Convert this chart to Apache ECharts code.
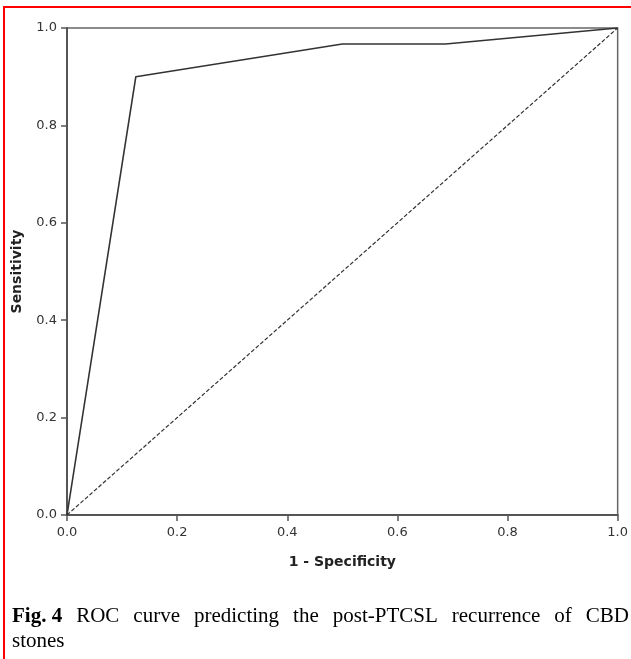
<!DOCTYPE html>
<html>
<head>
<meta charset="utf-8">
<script src="https://cdn.jsdelivr.net/npm/echarts@6/dist/echarts.min.js"></script>
<style>
  html, body { margin: 0; padding: 0; background: #fff; }
  #chart { width: 631px; height: 659px; }
</style>
</head>
<body>
<div id="chart"></div>
<script>
// ROC points (1 - specificity, sensitivity)
const fpr = [0, 0.125, 0.5, 0.6875, 1]
const tpr = [0, 0.9, 0.967, 0.967, 1]
// chance (reference) line
const refX = [0, 1]
const refY = [0, 1]
const tickValues = [0, 0.2, 0.4, 0.6, 0.8, 1.0]

const captionLine1 = ['Fig. 4', 'ROC', 'curve', 'predicting', 'the', 'post-PTCSL', 'recurrence', 'of', 'CBD']
const captionLine2 = 'stones'

const SERIF = "'Liberation Serif', 'Times New Roman', serif"
const CAP_SIZE = 21

// spread the first caption line across the full width (the original is justified)
function justifyWords(words, left, right, baseline) {
  const ctx = document.createElement('canvas').getContext('2d')
  const fonts = words.map((w, i) => (i === 0 ? 'bold ' : '') + CAP_SIZE + 'px ' + SERIF)
  const widths = words.map((w, i) => {
    ctx.font = fonts[i]
    return ctx.measureText(w).width
  })
  const total = widths.reduce((a, b) => a + b, 0)
  const gap = (right - left - total) / (words.length - 1)
  let x = left
  return words.map((w, i) => {
    const el = {
      type: 'text',
      style: {
        x: x, y: baseline, text: w, font: fonts[i], fill: '#000',
        align: 'left', verticalAlign: 'bottom'
      }
    }
    x += widths[i] + gap
    return el
  })
}

const chart = echarts.init(document.getElementById('chart'), null, { renderer: 'canvas' })

const axisLabelStyle = {
  color: '#333',
  fontFamily: 'DejaVu Sans',
  fontSize: 13,
  formatter: (v) => v.toFixed(1)
}
const axisNameStyle = { fontFamily: 'DejaVu Sans', fontWeight: 'bold', fontSize: 14, color: '#222' }

chart.setOption({
  animation: false,
  backgroundColor: '#fff',
  grid: {
    left: 67, right: 11, top: 28, bottom: 144,
    show: true,
    borderColor: '#666',
    borderWidth: 1.5
  },
  xAxis: {
    type: 'value',
    min: 0, max: 1, interval: 0.2,
    name: '1 - Specificity',
    nameLocation: 'middle',
    nameGap: 40,
    nameTextStyle: axisNameStyle,
    axisLine: { show: true, lineStyle: { color: '#555', width: 2 } },
    axisTick: { show: true, length: 6, lineStyle: { color: '#555', width: 1.5 } },
    axisLabel: Object.assign({ margin: 11, customValues: tickValues }, axisLabelStyle),
    splitLine: { show: false }
  },
  yAxis: {
    type: 'value',
    min: 0, max: 1, interval: 0.2,
    name: 'Sensitivity',
    nameLocation: 'middle',
    nameRotate: 90,
    nameGap: 43,
    nameTextStyle: axisNameStyle,
    axisLine: { show: true, lineStyle: { color: '#555', width: 2 } },
    axisTick: { show: true, length: 6, lineStyle: { color: '#555', width: 1.5 } },
    axisLabel: Object.assign({ margin: 10 }, axisLabelStyle),
    splitLine: { show: false }
  },
  series: [
    {
      name: 'ROC',
      type: 'line',
      symbol: 'none',
      lineStyle: { color: '#333', width: 1.6 },
      data: fpr.map((x, i) => [x, tpr[i]]),
      z: 3
    },
    {
      name: 'Reference',
      type: 'line',
      symbol: 'none',
      lineStyle: { color: '#333', width: 1.2, type: [4, 2] },
      data: refX.map((x, i) => [x, refY[i]]),
      z: 2
    }
  ],
  graphic: [
    // red frame around the figure (top and left edges visible)
    { type: 'line', shape: { x1: 3, y1: 7, x2: 631, y2: 7 }, style: { stroke: '#f00', lineWidth: 2 } },
    { type: 'line', shape: { x1: 4, y1: 7, x2: 4, y2: 659 }, style: { stroke: '#f00', lineWidth: 2 } },
    ...justifyWords(captionLine1, 12, 629, 627),
    {
      type: 'text',
      style: {
        x: 12, y: 652, text: captionLine2, font: CAP_SIZE + 'px ' + SERIF,
        fill: '#000', align: 'left', verticalAlign: 'bottom'
      }
    }
  ]
})
</script>
</body>
</html>
